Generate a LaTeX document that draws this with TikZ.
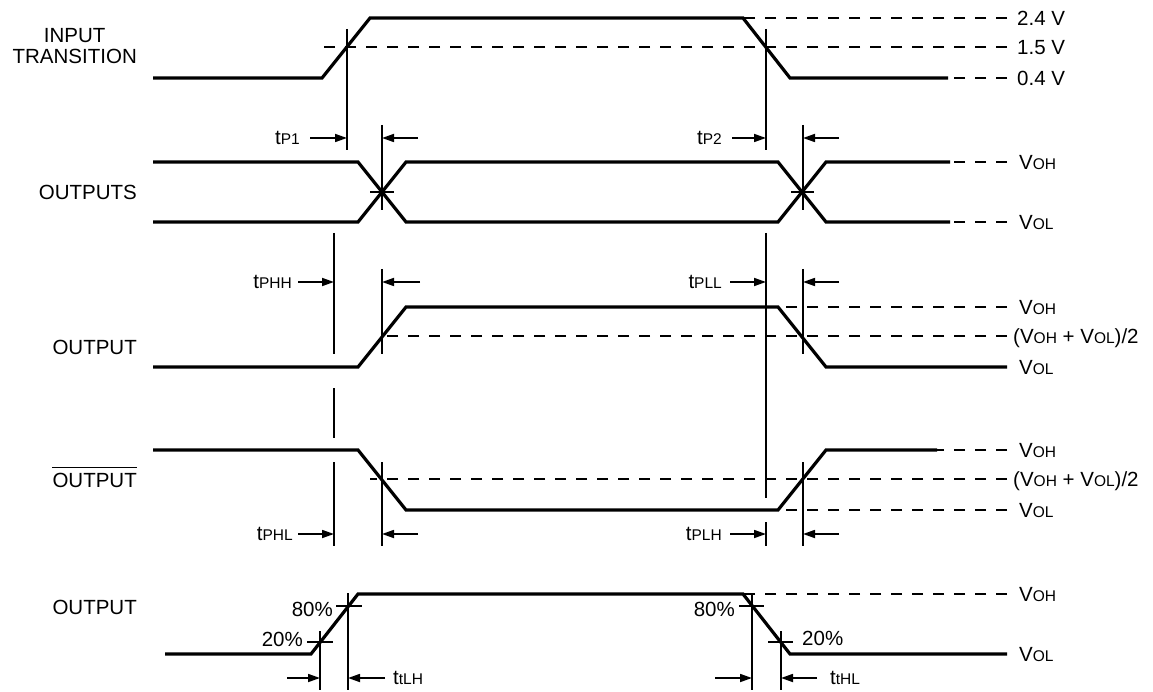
\documentclass[tikz,border=0pt]{standalone}
\usepackage{fontspec}
\setmainfont{Liberation Sans}
\usetikzlibrary{arrows.meta}
\newcommand\subtx[1]{{\fontsize{15.5}{18}\selectfont #1}}
\tikzset{
  wave/.style={line width=3.2pt},
  guide/.style={line width=1.7pt},
  lev/.style={line width=1.7pt,dash pattern=on 11pt off 10pt},
  dimarr/.style={line width=1.7pt,-{Triangle[length=12pt,width=8pt]}},
  lbl/.style={inner sep=0pt,font=\fontsize{20.5}{24}\selectfont},
  rlbl/.style={lbl,anchor=base west,yshift=-7.3pt}
}
\begin{document}
\begin{tikzpicture}[x=1pt,y=-1pt]
  \useasboundingbox (0,0) rectangle (1153,692);
  \node[lbl,anchor=base east] (ltr) at (137,64) {TRANSITION};
  \node[lbl,anchor=base] (lin) at ([yshift=21pt]ltr.base) {INPUT};
  \node[lbl,anchor=base east] (louts) at (137,200) {OUTPUTS};
  \node[lbl,anchor=base east] (lout) at (137,354) {OUTPUT};
  \node[lbl,anchor=base east] (loutb) at (137,487) {OUTPUT};
  \draw[guide] ([yshift=5pt]loutb.north west) -- ([yshift=5pt]loutb.north east);
  \node[lbl,anchor=base east] (lslew) at (137,614) {OUTPUT};

  \draw[lev] (1007,18) -- (743,18);
  \draw[lev] (1007,47) -- (322,47);
  \draw[lev] (1007,78) -- (948,78);
  \draw[lev] (1007,162) -- (950,162);
  \draw[lev] (1007,222) -- (950,222);
  \draw[lev] (1007,307) -- (778,307);
  \draw[lev] (1007,336) -- (382,336);
  \draw[lev] (1007,450) -- (937,450);
  \draw[lev] (1007,479) -- (370,479);
  \draw[lev] (1007,510) -- (778,510);
  \draw[lev] (1007,594) -- (743,594);

  \draw[wave] (153,78) -- (322,78) -- (370,18) -- (743,18) -- (790,78) -- (948,78);
  \draw[wave] (153,162) -- (358,162) -- (406,222) -- (778,222) -- (826,162) -- (950,162);
  \draw[wave] (153,222) -- (358,222) -- (406,162) -- (778,162) -- (826,222) -- (950,222);
  \draw[wave] (153,367) -- (358,367) -- (406,307) -- (778,307) -- (826,367) -- (1007,367);
  \draw[wave] (153,450) -- (358,450) -- (406,510) -- (778,510) -- (826,450) -- (937,450);
  \draw[wave] (165,654) -- (311,654) -- (358,594) -- (743,594) -- (790,654) -- (1007,654);

  \draw[guide] (347,29) -- (347,150);
  \draw[guide] (382,125) -- (382,210);
  \draw[guide] (370,192) -- (394,192);
  \draw[guide] (766,29) -- (766,150);
  \draw[guide] (803,125) -- (803,210);
  \draw[guide] (791,192) -- (814,192);
  \draw[guide] (334,233) -- (334,354);
  \draw[guide] (334,388) -- (334,438);
  \draw[guide] (334,462) -- (334,546);
  \draw[guide] (382,269) -- (382,354);
  \draw[guide] (382,462) -- (382,546);
  \draw[guide] (766,233) -- (766,498);
  \draw[guide] (766,522) -- (766,546);
  \draw[guide] (803,269) -- (803,354);
  \draw[guide] (803,462) -- (803,546);
  \draw[guide] (320,631) -- (320,690);
  \draw[guide] (307,642) -- (333,642);
  \draw[guide] (348,593) -- (348,690);
  \draw[guide] (336,606) -- (362,606);
  \draw[guide] (752,593) -- (752,690);
  \draw[guide] (739,606) -- (764,606);
  \draw[guide] (781,631) -- (781,690);
  \draw[guide] (768,642) -- (793,642);

  \node[lbl,anchor=east] (tpone) at (300,138) {t\subtx{P1}};
  \node[lbl,anchor=east] (tptwo) at (722,138) {t\subtx{P2}};
  \node[lbl,anchor=east] (tphh) at (292,282) {t\subtx{PHH}};
  \node[lbl,anchor=east] (tpll) at (722,282) {t\subtx{PLL}};
  \node[lbl,anchor=east] (tphl) at (293,534) {t\subtx{PHL}};
  \node[lbl,anchor=east] (tplh) at (722,534) {t\subtx{PLH}};
  \node[lbl,anchor=west] (ttlh) at (393,678) {t\subtx{tLH}};
  \node[lbl,anchor=west] (tthl) at (830,678) {t\subtx{tHL}};
  \draw[dimarr] ([xshift=10pt]tpone.east) -- (347,138);
  \draw[dimarr] (418,138) -- (382,138);
  \draw[dimarr] ([xshift=10pt]tptwo.east) -- (766,138);
  \draw[dimarr] (839,138) -- (803,138);
  \draw[dimarr] ([xshift=6pt]tphh.east) -- (334,282);
  \draw[dimarr] (420,282) -- (382,282);
  \draw[dimarr] ([xshift=8pt]tpll.east) -- (766,282);
  \draw[dimarr] (839,282) -- (803,282);
  \draw[dimarr] ([xshift=5pt]tphl.east) -- (334,534);
  \draw[dimarr] (418,534) -- (382,534);
  \draw[dimarr] ([xshift=8pt]tplh.east) -- (766,534);
  \draw[dimarr] (839,534) -- (803,534);
  \draw[dimarr] (287,678) -- (320,678);
  \draw[dimarr] ([xshift=-8pt]ttlh.west) -- (348,678);
  \draw[dimarr] (715,678) -- (752,678);
  \draw[dimarr] ([xshift=-13pt]tthl.west) -- (781,678);

  \node[lbl,anchor=east] (pa80) at (333,609) {80\%};
  \node[lbl,anchor=east] (pa20) at (303,639) {20\%};
  \node[lbl,anchor=east] (pb80) at (735,609) {80\%};
  \node[lbl,anchor=west] (pb20) at (802,638) {20\%};

  \node[rlbl] (v24) at (1017,18) {2.4 V};
  \node[rlbl] (v15) at (1017,47) {1.5 V};
  \node[rlbl] (v04) at (1017,78) {0.4 V};
  \node[rlbl] (vohs) at (1019,162) {V\subtx{OH}};
  \node[rlbl] (vols) at (1019,222) {V\subtx{OL}};
  \node[rlbl] (voha) at (1019,307) {V\subtx{OH}};
  \node[rlbl] (vmida) at (1013,336) {(V\subtx{OH} + V\subtx{OL})/2};
  \node[rlbl] (vola) at (1019,367) {V\subtx{OL}};
  \node[rlbl] (vohb) at (1019,450) {V\subtx{OH}};
  \node[rlbl] (vmidb) at (1013,479) {(V\subtx{OH} + V\subtx{OL})/2};
  \node[rlbl] (volb) at (1019,510) {V\subtx{OL}};
  \node[rlbl] (vohc) at (1019,594) {V\subtx{OH}};
  \node[rlbl] (volc) at (1019,654) {V\subtx{OL}};
\end{tikzpicture}
\end{document}
